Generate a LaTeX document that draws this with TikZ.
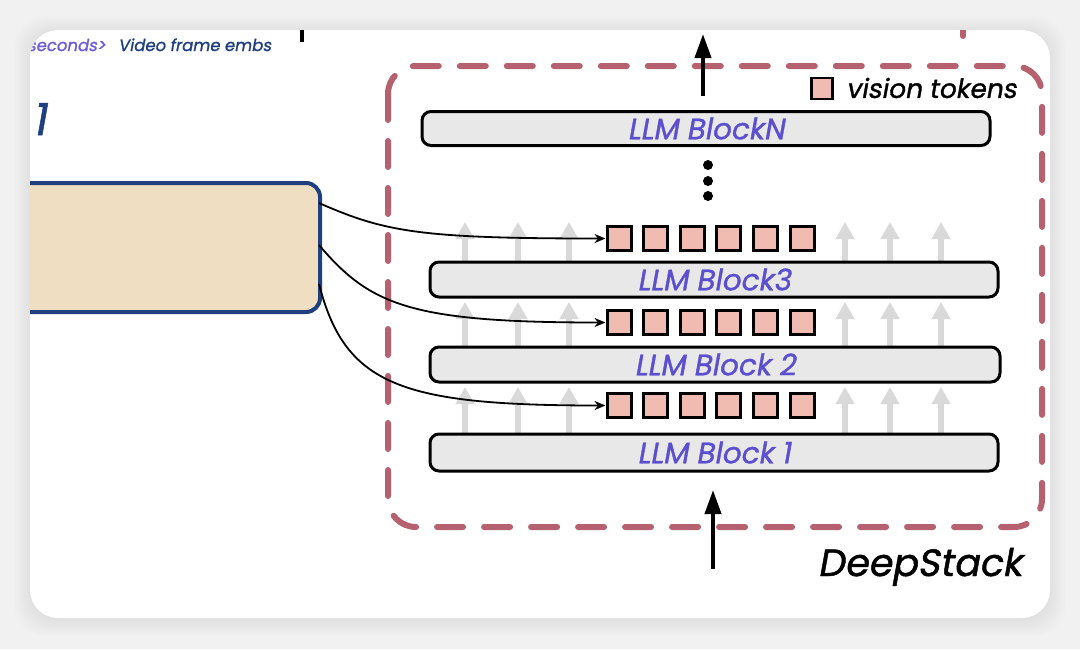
\documentclass[tikz,border=0pt]{standalone}
\usepackage{fontspec}
\newfontfamily\fut[FakeSlant=0.18,FakeBold=1.2]{Poppins}
\usetikzlibrary{arrows.meta}
\definecolor{bgc}{HTML}{F1F1F1}
\definecolor{beige}{HTML}{F0DEC2}
\definecolor{navy}{HTML}{1F3F7F}
\definecolor{rose}{HTML}{B5616F}
\definecolor{tokpink}{HTML}{F0BCB2}
\definecolor{blockfill}{HTML}{E8E8E8}
\definecolor{lblue}{HTML}{5B4FD0}
\definecolor{lpurple}{HTML}{6E5CD8}
\definecolor{ghost}{HTML}{D9D9D9}
\tikzset{
  llmblock/.style={draw=black, line width=3pt, fill=blockfill, rounded corners=9pt,
    minimum height=34pt, inner sep=0pt, font=\fut\fontsize{29.5}{29.5}\selectfont, text=lblue},
  token/.style={draw=black, line width=3pt, fill=tokpink, minimum size=24pt, inner sep=0pt},
  ghostarrow/.style={draw=ghost, line width=6pt, -{Triangle[width=18pt,length=17pt]}},
  conn/.style={draw=black, line width=1.8pt, -{Stealth[length=11pt,width=9pt]}},
  bigarrow/.style={draw=black, line width=4pt, -{Triangle[width=16pt,length=24pt]}},
  dashbox/.style={draw=rose, line width=6pt, dash pattern=on 26pt off 21pt, line cap=round},
}
\begin{document}
\begin{tikzpicture}[x=1pt,y=-1pt]
\useasboundingbox (0,0) rectangle (1080,649);
\fill[bgc] (0,0) rectangle (1080,649);
% shadow
\foreach \i in {1,...,16}{
  \fill[black, opacity=0.005, rounded corners=30pt] ({30-\i},{32-\i}) rectangle ({1050+\i},{620+\i});
}
\fill[white, rounded corners=28pt] (30,30) rectangle (1050,618);
\begin{scope}
\clip[rounded corners=28pt] (30,30) rectangle (1050,618);
% top-left texts
\node[anchor=base west, inner sep=0pt, text=lpurple, font=\fut\fontsize{16.5}{16.5}\selectfont] (sec) at (27,51) {seconds>};
\node[anchor=base west, inner sep=0pt, text=navy, font=\fut\fontsize{16.5}{16.5}\selectfont] (vfe) at (118,51) {Video frame embs};
\node[anchor=base west, inner sep=0pt, text=navy, font=\fut\fontsize{44}{44}\selectfont] (one) at (32,135) {1};
\draw[black, line width=4pt] (302,20) -- (302,42);
\draw[dashbox] (963,10) -- (963,42);
% beige box
\node[draw=navy, line width=4pt, fill=beige, rounded corners=14pt, minimum width=440pt, minimum height=129pt, inner sep=0pt] (emb) at (100,247.5) {};
% dashed container
\draw[dashbox, rounded corners=28pt] (388,66) rectangle (1042,527);
% ghost arrows
\foreach \x in {465,518,569,845,890,941}{
  \draw[ghostarrow] (\x,262) -- (\x,222);
  \draw[ghostarrow] (\x,347) -- (\x,302);
  \draw[ghostarrow] (\x,433) -- (\x,387);
}
% blocks
\node[llmblock, minimum width=568pt] (bN) at (706,128.5) {LLM BlockN};
\node[llmblock, minimum width=568pt, minimum height=35pt] (b3) at (714,279.5) {LLM Block3};
\node[llmblock, minimum width=570pt, minimum height=35pt] (b2) at (715,364.5) {LLM Block 2};
\node[llmblock, minimum width=568pt, minimum height=37pt] (b1) at (714,452.5) {LLM Block 1};
% dots
\foreach \y [count=\k] in {165,181,196}{
  \fill[black] (708,\y) circle (5pt);
}
% tokens
\foreach \r/\y in {1/238.5,2/322.5,3/405.5}{
  \foreach \k in {0,...,5}{
    \node[token] (t\r-\k) at ({619+36.6*\k},\y) {};
  }
}
% legend
\node[token, minimum size=21pt, line width=2.5pt] (leg) at (822,88.5) {};
\node[anchor=west, inner sep=0pt, font=\fut\fontsize{26.5}{26.5}\selectfont] (legt) at (846,88) {vision tokens};
% connectors
\coordinate (s1) at (319,203);
\coordinate (s2) at (319,245);
\coordinate (s3) at (319,284);
\draw[conn] (s1) .. controls (385,232) and (420,238.5) .. (t1-0.west);
\draw[conn] (s2) .. controls (370,305) and (410,322.5) .. (t2-0.west);
\draw[conn] (s3) .. controls (345,385) and (400,405.5) .. (t3-0.west);
% big arrows
\coordinate (topS) at (703,96);
\coordinate (topE) at (703,34);
\draw[bigarrow] (topS) -- (topE);
\coordinate (botS) at (713,569);
\coordinate (botE) at (713,490);
\draw[bigarrow] (botS) -- (botE);
% DeepStack
\node[anchor=base east, inner sep=0pt, font=\fut\fontsize{38}{38}\selectfont] (ds) at (1022,576) {DeepStack};
\end{scope}
\end{tikzpicture}
\end{document}
